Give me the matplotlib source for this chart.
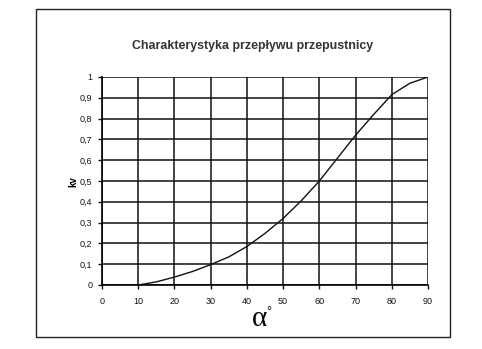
import matplotlib
matplotlib.use("Agg")
import matplotlib.pyplot as plt
from matplotlib.patches import Rectangle
from matplotlib.ticker import FuncFormatter

angle = [10, 15, 20, 25, 30, 35, 40, 45, 50, 55, 60, 65, 70, 75, 80, 85, 90]
kv = [0.0, 0.015, 0.038, 0.065, 0.098, 0.135, 0.185, 0.248, 0.32, 0.405, 0.50, 0.61, 0.72, 0.82, 0.915, 0.97, 1.0]
x_ticks = [0, 10, 20, 30, 40, 50, 60, 70, 80, 90]
y_ticks = [0, 0.1, 0.2, 0.3, 0.4, 0.5, 0.6, 0.7, 0.8, 0.9, 1.0]
title = "Charakterystyka przepływu przepustnicy"

plt.rcParams['font.family'] = ['Liberation Sans', 'DejaVu Sans']

fig = plt.figure(figsize=(4.82, 3.49), dpi=100)
fig.patches.append(Rectangle((0.075, 0.034), 0.859, 0.940, transform=fig.transFigure,
                             fill=False, edgecolor='#222222', linewidth=1.0))

ax = fig.add_axes([0.2116, 0.1834, 0.6764, 0.596])
ax.plot(angle, kv, color='#111111', linewidth=1.0)
ax.set_xlim(0, 90)
ax.set_ylim(0, 1)
ax.set_xticks(x_ticks)
ax.set_yticks(y_ticks)
ax.yaxis.set_major_formatter(FuncFormatter(lambda v, p: ('%g' % round(v, 1)).replace('.', ',')))
ax.grid(True, color='#111111', linewidth=1.1)
for s in ax.spines.values():
    s.set_visible(False)
ax.spines['left'].set_visible(True)
ax.spines['bottom'].set_visible(True)
ax.spines['left'].set_linewidth(1.2)
ax.spines['bottom'].set_linewidth(1.2)
ax.tick_params(direction='out', length=3, width=1, labelsize=6.5, colors='#111111', pad=4)
ax.tick_params(axis='x', pad=6)

fig.text(0.523, 0.868, title, ha='center', va='center', fontsize=8.9, fontweight='bold',
         color='#333333')
fig.text(0.152, 0.48, 'kv', rotation=90, ha='center', va='center', fontsize=7, fontweight='bold')
fig.text(0.539, 0.086, 'α', ha='center', va='center', fontsize=21, family='Liberation Serif')
fig.text(0.558, 0.106, '°', ha='center', va='center', fontsize=9, family='Liberation Sans')

fig.savefig('out.png', dpi=100, facecolor='white')
